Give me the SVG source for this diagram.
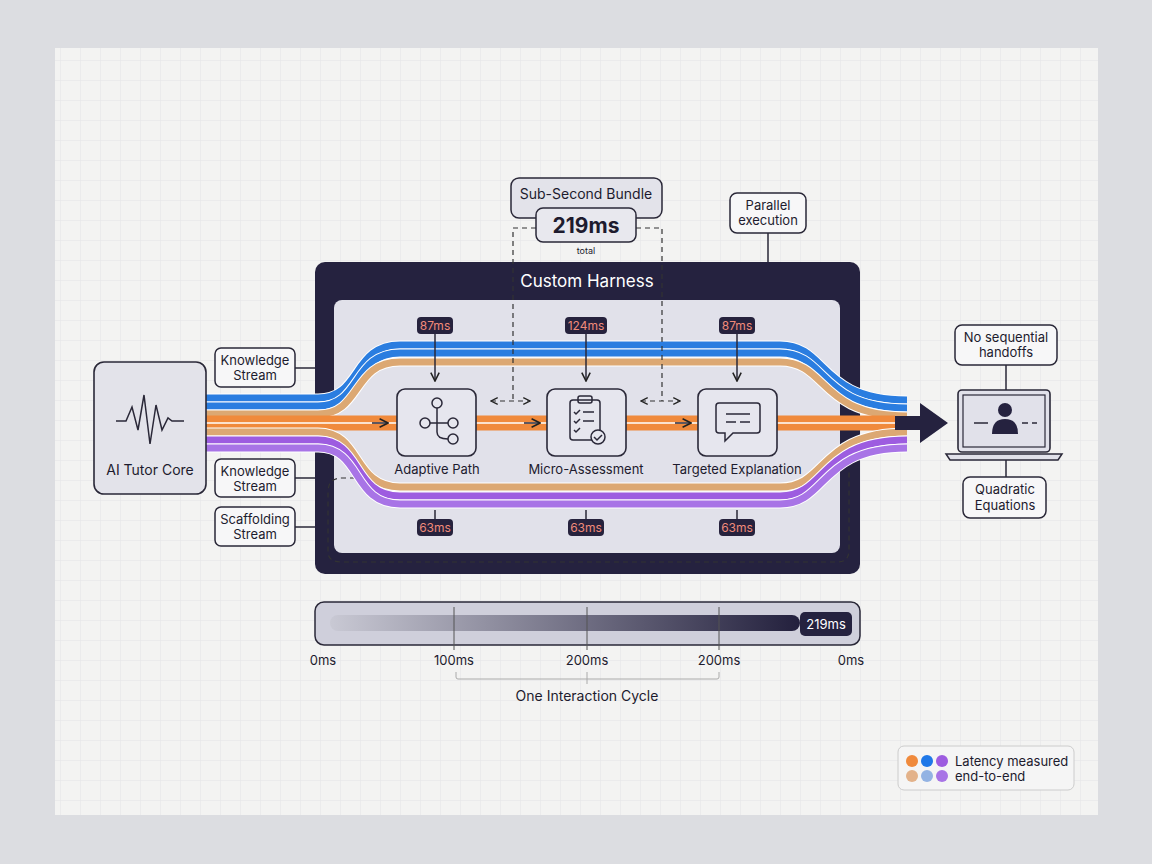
<svg xmlns="http://www.w3.org/2000/svg" width="1152" height="864" viewBox="0 0 1152 864">
<defs>
<pattern id="grid" width="20" height="20" patternUnits="userSpaceOnUse"><path d="M20 0H0V20" fill="none" stroke="#e3e4e6" stroke-width="1"/></pattern>
<linearGradient id="tg" x1="0" x2="1"><stop offset="0" stop-color="#c9c9d4"/><stop offset="1" stop-color="#23203d"/></linearGradient>
<marker id="ah" viewBox="0 0 10 10" refX="9" refY="5" markerWidth="7" markerHeight="7" orient="auto-start-reverse"><path d="M1 1L9 5L1 9" fill="none" stroke="#222" stroke-width="1.5"/></marker>
</defs>
<style>
text{font-family:"Inter","Liberation Sans",sans-serif;fill:#1d1b2e}
.lb{fill:#f7f7f8;stroke:#2a2838;stroke-width:1.5}
.t13{font-size:13px;text-anchor:middle}
.t14{font-size:14px;text-anchor:middle}
.pill{fill:#26223d}
.pt{font-size:12px;fill:#f08a7a;text-anchor:middle}
.node{fill:#e6e6ee;stroke:#2a2838;stroke-width:1.6}
.ln{fill:none;stroke:#2a2838;stroke-width:1.5}
.dash{fill:none;stroke:#333;stroke-width:1.2;stroke-dasharray:5 4}
.wb{fill:none;stroke:#fff;stroke-width:9}
</style>
<rect width="1152" height="864" fill="#dcdde1"/>
<rect x="55" y="48" width="1043" height="767" fill="#f3f3f2"/>
<rect x="55" y="48" width="1043" height="767" fill="url(#grid)"/>

<g id="harness">
<rect x="315" y="262" width="545" height="312" rx="10" fill="#25223f"/>
<rect x="334" y="300" width="506" height="253" rx="8" fill="#e1e1ea"/>
<text x="587" y="287" font-size="17" text-anchor="middle" style="fill:#fff">Custom Harness</text>
</g>

<g id="connectors">
<path class="dash" d="M364,478 H342 Q328,478 328,492 V552 Q328,562 342,562 H838 Q849,562 849,550 V470"/>
<!-- streams -->
<g fill="none">
<path class="wb" d="M195,398 H318 C362,398 352,345 400,345 H780 C828,345 818,400 907,400"/>
<path stroke="#2a7de0" stroke-width="7" d="M195,398 H318 C362,398 352,345 400,345 H780 C828,345 818,400 907,400"/>
<path class="wb" d="M195,406 H318 C362,406 352,353 400,353 H780 C828,353 818,408 907,408"/>
<path stroke="#2a7de0" stroke-width="7" d="M195,406 H318 C362,406 352,353 400,353 H780 C828,353 818,408 907,408"/>
<path class="wb" d="M195,414 H318 C362,414 352,362 400,362 H780 C828,362 818,416 907,416"/>
<path stroke="#dca873" stroke-width="7" d="M195,414 H318 C362,414 352,362 400,362 H780 C828,362 818,416 907,416"/>
<path stroke="#f08a3c" stroke-width="15" d="M195,423 H895"/>
<path stroke="#fff" stroke-width="1.5" d="M195,423 H895"/>
<path class="wb" d="M195,432 H318 C362,432 352,487 400,487 H780 C828,487 818,432 907,432"/>
<path stroke="#dca873" stroke-width="7" d="M195,432 H318 C362,432 352,487 400,487 H780 C828,487 818,432 907,432"/>
<path class="wb" d="M195,440 H318 C362,440 352,496 400,496 H780 C828,496 818,440 907,440"/>
<path stroke="#9d5ce0" stroke-width="7" d="M195,440 H318 C362,440 352,496 400,496 H780 C828,496 818,440 907,440"/>
<path class="wb" d="M195,448 H318 C362,448 352,504 400,504 H780 C828,504 818,448 907,448"/>
<path stroke="#a874e6" stroke-width="7" d="M195,448 H318 C362,448 352,504 400,504 H780 C828,504 818,448 907,448"/>
</g>
<polygon points="895,416 920,416 920,403 948,423 920,443 920,430 895,430" fill="#25223f"/>
<!-- small arrows -->
<path class="ln" d="M372,423 H388" marker-end="url(#ah)"/>
<path class="ln" d="M524,423 H540" marker-end="url(#ah)"/>
<path class="ln" d="M675,423 H691" marker-end="url(#ah)"/>
<path class="dash" d="M491,401 H530" marker-start="url(#ah)" marker-end="url(#ah)"/>
<path class="dash" d="M641,401 H680" marker-start="url(#ah)" marker-end="url(#ah)"/>
<path class="dash" d="M536,228 H513 V401"/>
<path class="dash" d="M636,228 H662 V401"/>
<!-- timing ticks -->
<path class="ln" d="M435,333 V381" marker-end="url(#ah)"/>
<path class="ln" d="M586,333 V381" marker-end="url(#ah)"/>
<path class="ln" d="M737,333 V381" marker-end="url(#ah)"/>
<path class="ln" d="M435,510 V520 M586,510 V520 M737,510 V520"/>
<path class="ln" d="M295,368 H315 M295,478 H315 M295,527 H315 M768,233 V262 M1006,365 V390 M1006,460 V477"/>
</g>

<g id="timing-labels">
<rect class="pill" x="417" y="317" width="36" height="17" rx="4"/><text class="pt" x="435" y="330">87ms</text>
<rect class="pill" x="565" y="317" width="42" height="17" rx="4"/><text class="pt" x="586" y="330">124ms</text>
<rect class="pill" x="719" y="317" width="36" height="17" rx="4"/><text class="pt" x="737" y="330">87ms</text>
<rect class="pill" x="417" y="519" width="36" height="17" rx="4"/><text class="pt" x="435" y="532">63ms</text>
<rect class="pill" x="568" y="519" width="36" height="17" rx="4"/><text class="pt" x="586" y="532">63ms</text>
<rect class="pill" x="719" y="519" width="36" height="17" rx="4"/><text class="pt" x="737" y="532">63ms</text>
</g>

<g id="adaptive-path">
<rect class="node" x="397" y="389" width="79" height="67" rx="8"/>
<g class="ln" stroke-width="1.8">
<circle cx="437" cy="403" r="5"/><circle cx="425" cy="423" r="5"/><circle cx="453" cy="423" r="5"/><circle cx="453" cy="439" r="5"/>
<path d="M437,408 V432 Q437,439 448,439 M430,423 H448"/>
</g>
<text class="t13" x="437" y="474">Adaptive Path</text>
</g>

<g id="micro-assessment">
<rect class="node" x="547" y="389" width="79" height="67" rx="8"/>
<g class="ln" stroke-width="1.8">
<rect x="570" y="400" width="30" height="40" rx="3"/><rect x="578" y="396" width="14" height="7" rx="2"/>
<path d="M574,412 l2,2 l4,-4 M583,412 H594 M574,421 l2,2 l4,-4 M583,421 H594 M574,430 l2,2 l4,-4"/>
<circle cx="598" cy="437" r="7" fill="#e6e6ee"/><path d="M594,437 l3,3 l5,-5"/>
</g>
<text class="t13" x="586" y="474">Micro-Assessment</text>
</g>

<g id="targeted-explanation">
<rect class="node" x="698" y="389" width="79" height="67" rx="8"/>
<g class="ln" stroke-width="1.8">
<path d="M719,403 H757 Q760,403 760,406 V430 Q760,433 757,433 H733 L725,441 V433 H719 Q716,433 716,430 V406 Q716,403 719,403 Z"/>
<path d="M726,414 H750 M726,422 H736 M740,422 H750"/>
</g>
<text class="t13" x="737" y="474">Targeted Explanation</text>
</g>

<g id="ai-tutor-core">
<rect x="94" y="362" width="112" height="132" rx="10" fill="#e3e3ea" stroke="#2a2838" stroke-width="1.6"/>
<path class="ln" stroke-width="2.2" d="M116,421 H126 L132,407 L138,430 L144,395 L150,444 L156,405 L162,430 L168,418 L172,421 H184"/>
<text class="t14" x="150" y="475">AI Tutor Core</text>
</g>

<g id="knowledge-stream-1"><rect class="lb" x="215" y="348" width="80" height="39" rx="6"/><text class="t13" x="255" y="365">Knowledge</text><text class="t13" x="255" y="380">Stream</text></g>
<g id="knowledge-stream-2"><rect class="lb" x="215" y="459" width="80" height="38" rx="6"/><text class="t13" x="255" y="476">Knowledge</text><text class="t13" x="255" y="491">Stream</text></g>
<g id="scaffolding-stream"><rect class="lb" x="215" y="507" width="80" height="39" rx="6"/><text class="t13" x="255" y="524">Scaffolding</text><text class="t13" x="255" y="539">Stream</text></g>

<g id="sub-second-bundle">
<rect x="511" y="178" width="151" height="40" rx="8" fill="#e3e3ea" stroke="#2a2838" stroke-width="1.5"/>
<text class="t14" x="586" y="199">Sub-Second Bundle</text>
<rect x="536" y="208" width="100" height="34" rx="7" fill="#e8e8ee" stroke="#2a2838" stroke-width="1.5"/>
<text x="586" y="233" font-size="21" font-weight="bold" text-anchor="middle">219ms</text>
<text x="586" y="254" font-size="9" text-anchor="middle">total</text>
</g>

<g id="parallel-execution"><rect class="lb" x="730" y="193" width="76" height="40" rx="7"/><text class="t13" x="768" y="210">Parallel</text><text class="t13" x="768" y="225">execution</text></g>

<g id="no-sequential"><rect class="lb" x="955" y="325" width="102" height="40" rx="7"/><text class="t13" x="1006" y="342">No sequential</text><text class="t13" x="1006" y="357">handoffs</text></g>

<g id="laptop">
<rect x="958" y="390" width="92" height="62" rx="4" fill="#e1e1ea" stroke="#2a2838" stroke-width="1.6"/>
<rect x="963" y="395" width="82" height="52" fill="#e1e1ea" stroke="#2a2838" stroke-width="1.2"/>
<path d="M946,454 H1062 L1058,460 H950 Z" fill="#e1e1ea" stroke="#2a2838" stroke-width="1.5"/>
<circle cx="1005" cy="410" r="7" fill="#25223f"/>
<path d="M992,434 Q992,419 1005,419 Q1018,419 1018,434 Z" fill="#25223f"/>
<path class="ln" stroke-width="2" d="M974,423 H988 M1022,423 H1028 M1032,423 H1037"/>
</g>

<g id="quadratic"><rect class="lb" x="963" y="477" width="83" height="41" rx="7"/><text class="t13" x="1005" y="494">Quadratic</text><text class="t13" x="1005" y="510">Equations</text></g>

<g id="timeline">
<rect x="315" y="602" width="545" height="43" rx="9" fill="#cfcfdb" stroke="#2a2838" stroke-width="1.5"/>
<rect x="330" y="615" width="470" height="16" rx="8" fill="url(#tg)"/>
<rect x="800" y="612" width="52" height="24" rx="5" fill="#25223f"/>
<text x="826" y="629" font-size="13" text-anchor="middle" style="fill:#fff">219ms</text>
<path d="M454,607 V650 M587,607 V650 M719,607 V650" stroke="#555" stroke-width="1"/>
<g font-size="13" text-anchor="middle"><text x="323" y="665">0ms</text><text x="454" y="665">100ms</text><text x="587" y="665">200ms</text><text x="719" y="665">200ms</text><text x="851" y="665">0ms</text></g>
<path d="M456,672 V677 Q456,679 458,679 H717 Q719,679 719,677 V672 M587,672 V684" fill="none" stroke="#aaa" stroke-width="1"/>
<text class="t14" x="587" y="701">One Interaction Cycle</text>
</g>

<g id="legend">
<rect x="898" y="746" width="176" height="44" rx="6" fill="#f5f5f5" stroke="#ccc"/>
<circle cx="912" cy="761" r="6" fill="#f08a3c"/><circle cx="927" cy="761" r="6" fill="#1f78e8"/><circle cx="942" cy="761" r="6" fill="#9d5ce0"/>
<circle cx="912" cy="776" r="6" fill="#e3b28a"/><circle cx="927" cy="776" r="6" fill="#93b3e3"/><circle cx="942" cy="776" r="6" fill="#a874e6"/>
<text x="955" y="766" font-size="13">Latency measured</text>
<text x="955" y="781" font-size="13">end-to-end</text>
</g>
</svg>
